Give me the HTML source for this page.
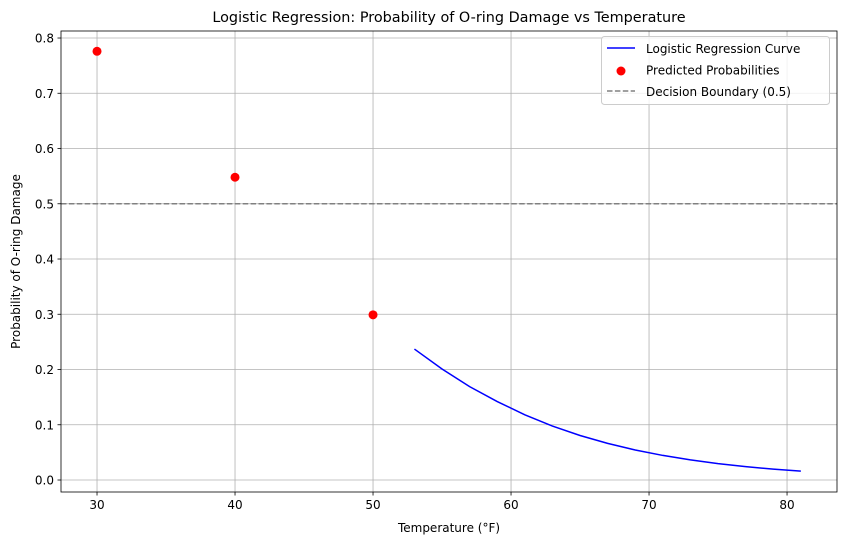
<!DOCTYPE html>
<html><head><meta charset="utf-8"><style>body{margin:0;background:#fff}svg{display:block;font-family:"DejaVu Sans","Liberation Sans",sans-serif}</style></head>
<body>
<svg id="c" width="846" height="545" xmlns="http://www.w3.org/2000/svg"></svg>
<script>
const curveX=[53,55,57,59,61,63,65,67,69,71,73,75,77,79,81];
const curveY=[0.237,0.201,0.169,0.142,0.118,0.0977,0.0806,0.0663,0.0544,0.0445,0.0364,0.0297,0.0242,0.0196,0.0160];
const pointX=[30,40,50];
const pointY=[0.776,0.548,0.299];
const boundary=0.5;
const xTicks=[30,40,50,60,70,80];
const yTicks=[0,0.1,0.2,0.3,0.4,0.5,0.6,0.7,0.8];
const L=61,R=837,T=31,B=492,xmin=27.39,xmax=83.62,ymin=-0.0217,ymax=0.8127;
const sx=v=>L+(v-xmin)/(xmax-xmin)*(R-L), sy=v=>B-(v-ymin)/(ymax-ymin)*(B-T);
const svg=document.getElementById('c'),NS='http://www.w3.org/2000/svg';
function mk(t,a,p){const e=document.createElementNS(NS,t);for(const k in a)e.setAttribute(k,a[k]);(p||svg).appendChild(e);return e;}
let g=mk('g',{});
xTicks.forEach(v=>{mk('line',{x1:sx(v),x2:sx(v),y1:T,y2:B,stroke:'#b0b0b0','stroke-width':0.8},g);
 mk('line',{x1:sx(v),x2:sx(v),y1:B,y2:B+3.5,stroke:'#000','stroke-width':0.8});
 const t=mk('text',{x:sx(v),y:B+17,'text-anchor':'middle','font-size':12});t.textContent=v;});
yTicks.forEach(v=>{mk('line',{x1:L,x2:R,y1:sy(v),y2:sy(v),stroke:'#b0b0b0','stroke-width':0.8},g);
 mk('line',{x1:L-3.5,x2:L,y1:sy(v),y2:sy(v),stroke:'#000','stroke-width':0.8});
 const t=mk('text',{x:L-7,y:sy(v)+4.5,'text-anchor':'end','font-size':12});t.textContent=v.toFixed(1);});
let d=mk('line',{x1:L,x2:R,y1:sy(boundary),y2:sy(boundary),stroke:'#808080','stroke-width':1.5,'stroke-dasharray':'5.5,2.4'});

let c=mk('polyline',{points:curveX.map((x,i)=>sx(x)+','+sy(curveY[i])).join(' '),fill:'none',stroke:'#0000ff','stroke-width':1.5});

pointX.forEach((x,i)=>{const p=mk('circle',{cx:sx(x),cy:sy(pointY[i]),r:4.5,fill:'#ff0000'});});
let f=mk('rect',{x:L,y:T,width:R-L,height:B-T,fill:'none',stroke:'#000','stroke-width':0.8});
let tt=mk('text',{x:(L+R)/2,y:22,'text-anchor':'middle','font-size':14.4});tt.textContent='Logistic Regression: Probability of O-ring Damage vs Temperature';
let xt=mk('text',{x:(L+R)/2,y:532,'text-anchor':'middle','font-size':12});xt.textContent='Temperature (°F)';
let yt=mk('text',{x:0,y:0,'text-anchor':'middle','font-size':12,transform:'translate(20,'+((T+B)/2)+') rotate(-90)'});yt.textContent='Probability of O-ring Damage';
let lg=mk('g',{});
mk('rect',{x:601.5,y:36.5,width:228,height:68,rx:3,fill:'#fff','fill-opacity':0.8,stroke:'#ccc'},lg);
mk('line',{x1:607,x2:635,y1:48,y2:48,stroke:'#0000ff','stroke-width':1.5},lg);
mk('circle',{cx:621,cy:71,r:4.5,fill:'#ff0000'},lg);
mk('line',{x1:607,x2:635,y1:91,y2:91,stroke:'#808080','stroke-width':1.5,'stroke-dasharray':'5.5,2.4'},lg);
['Logistic Regression Curve','Predicted Probabilities','Decision Boundary (0.5)'].forEach((s,i)=>{const t=mk('text',{x:646,y:53+i*21.5,'font-size':12},lg);t.textContent=s;});
</script>
</body></html>
